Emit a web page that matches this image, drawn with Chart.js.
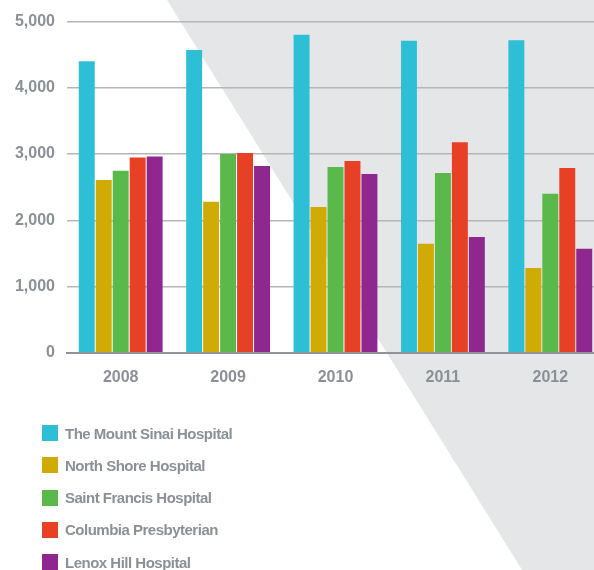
<!DOCTYPE html>
<html>
<head>
<meta charset="utf-8">
<script src="https://cdn.jsdelivr.net/npm/chart.js@4"></script>
<style>
  body { margin: 0; overflow: hidden; background: #fff; width: 594px; height: 570px; position: relative; }
  #wrap { position: absolute; left: 0; top: 0; width: 610px; height: 570px; }
  #legend { position: absolute; left: 42px; top: 425px; margin: 0; padding: 0; list-style: none; }
  #legend li { height: 16px; margin-bottom: 16.3px; display: flex; align-items: center;
    font-family: "Liberation Sans", Arial, sans-serif; font-weight: bold; font-size: 15px;
    letter-spacing: -0.5px; color: #8b9097; white-space: nowrap; }
  #legend span.box { width: 16px; height: 16px; margin-right: 7px; flex: none; }
</style>
</head>
<body>
<div id="wrap"><canvas id="hospitalChart" width="610" height="570"></canvas></div>
<ul id="legend"></ul>
<script>
// Data
const years = ["2008", "2009", "2010", "2011", "2012"];
const hospitals = ["The Mount Sinai Hospital", "North Shore Hospital", "Saint Francis Hospital", "Columbia Presbyterian", "Lenox Hill Hospital"];
const colors = ["#2dbfd6", "#d0aa05", "#5ab94a", "#e84025", "#8e278e"];

const mountSinai = [4400, 4570, 4800, 4710, 4720];
const northShore = [2610, 2280, 2200, 1645, 1280];
const saintFrancis = [2750, 3000, 2805, 2715, 2400];
const columbia = [2950, 3015, 2895, 3180, 2790];
const lenoxHill = [2965, 2820, 2700, 1750, 1570];

const seriesValues = [mountSinai, northShore, saintFrancis, columbia, lenoxHill];

const yTicks = [0, 1000, 2000, 3000, 4000, 5000];
const textGray = "#8b9097";

// gray diagonal band behind the chart
const backgroundBand = {
  id: 'backgroundBand',
  beforeDraw(chart) {
    const ctx = chart.ctx;
    const h = chart.height;
    ctx.save();
    ctx.fillStyle = "#e5e6e8";
    ctx.beginPath();
    ctx.moveTo(167, 0);
    ctx.lineTo(chart.width, 0);
    ctx.lineTo(chart.width, h);
    ctx.lineTo(167 + 0.623 * h, h);
    ctx.closePath();
    ctx.fill();
    ctx.restore();
  }
};

let datasets = [];
for (let i = 0; i < hospitals.length; i++){
  datasets.push({
    label: hospitals[i],
    data: seriesValues[i],
    backgroundColor: colors[i],
    barPercentage: 0.94,
    categoryPercentage: 0.79
  });
}

const ctx = document.querySelector('#hospitalChart').getContext('2d');
const hospitalChart = new Chart(ctx, {
  type: 'bar',
  data: {
    labels: years,
    datasets: datasets
  },
  options: {
    responsive: false,
    animation: false,
    devicePixelRatio: 1,
    layout: {
      padding: { top: 20, right: 6, bottom: 168, left: 0 }
    },
    plugins: {
      legend: { display: false },
      tooltip: { enabled: false }
    },
    scales: {
      x: {
        grid: { display: false, drawTicks: false },
        border: { display: true, color: "#909398", width: 2 },
        ticks: {
          color: textGray,
          padding: 15,
          font: { family: "'Liberation Sans', Arial, sans-serif", size: 16, weight: 'bold' }
        }
      },
      y: {
        min: 0,
        max: 5000,
        afterFit: function(scale) { scale.width = 67; },
        afterBuildTicks: function(scale) {
          scale.ticks = yTicks.map(v => ({ value: v }));
        },
        grid: { color: "#b5b6b8", lineWidth: 1.5, drawTicks: false },
        border: { display: false },
        ticks: {
          color: textGray,
          padding: 12,
          font: { family: "'Liberation Sans', Arial, sans-serif", size: 16, weight: 'bold' },
          callback: function(value) { return value.toLocaleString('en-US'); }
        }
      }
    }
  },
  plugins: [backgroundBand]
});

// HTML legend, one per line
const legendList = document.querySelector('#legend');
hospitals.forEach(function(name, i) {
  let item = document.createElement('li');
  let box = document.createElement('span');
  box.className = 'box';
  box.style.background = colors[i];
  item.appendChild(box);
  item.appendChild(document.createTextNode(name));
  legendList.appendChild(item);
});
</script>
</body>
</html>
